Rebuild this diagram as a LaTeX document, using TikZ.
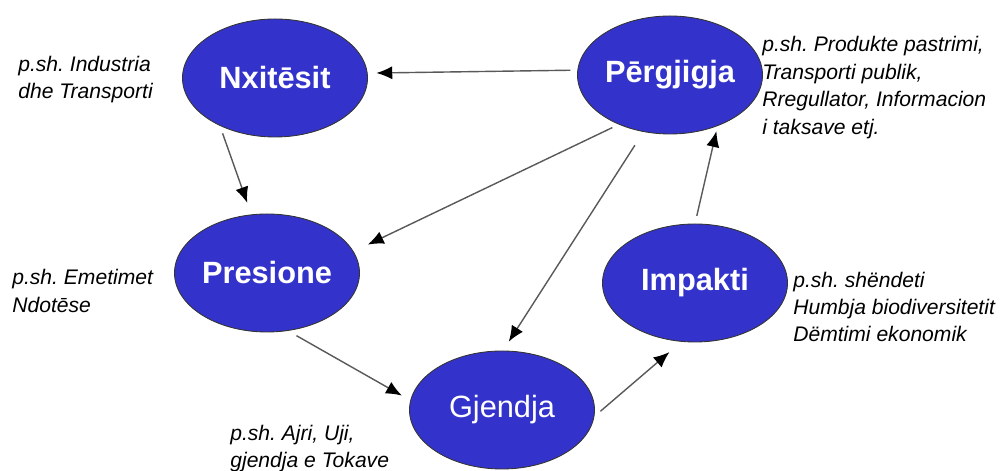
\documentclass[tikz,border=0pt]{standalone}
\usepackage{fontspec}
\setmainfont{Liberation Sans}
\usetikzlibrary{arrows.meta,shapes.geometric}
\definecolor{stageblue}{RGB}{51,51,204}
\frenchspacing

\begin{document}
\begin{tikzpicture}[>={Latex[length=9pt,width=7.5pt,color=black]},
    stage/.style={ellipse, draw=black!80, line width=0.5pt, fill=stageblue, text=white, minimum width=3.7cm, minimum height=2.36cm, inner sep=0pt, font=\bfseries\fontsize{17.5}{20}\selectfont},
    note/.style={anchor=west, align=left, inner sep=0pt, font=\itshape\fontsize{12}{15.6}\selectfont},
    link/.style={->, draw=black!65, line width=0.8pt}]
    \useasboundingbox (0,0) rectangle (20.06,9.42);
    % the five stages
    \node[stage] (nxit) at (5.50,7.86) {Nxitēsit};
    \node[stage] (perg) at (13.40,7.92) {Pērgjigja};
    \node[stage] (pres) at (5.34,3.96) {Presione};
    \node[stage] (imp) at (13.90,3.76) {Impakti};
    \node[stage] (gjen) at (10.04,1.22) {\mdseries Gjendja};
    % examples
    \node[note] (nxit_ex) at (0.36,7.83) {p.sh. Industria\\dhe Transporti};
    \node[note] (perg_ex) at (15.24,7.67) {p.sh. Produkte pastrimi,\\Transporti publik,\\Rregullator, Informacion\\i taksave etj.};
    \node[note] (pres_ex) at (0.24,3.60) {p.sh. Emetimet\\Ndotēse};
    \node[note] (imp_ex) at (15.86,3.28) {p.sh. shëndeti\\Humbja biodiversitetit\\Dëmtimi ekonomik};
    \node[note] (gjen_ex) at (4.60,0.45) {p.sh. Ajri, Uji,\\gjendja e Tokave};
    % links
    \draw[link, shorten <=4pt, shorten >=5pt] (perg.177) -- (nxit.3);
    \draw[link, shorten <=4.5pt, shorten >=7pt] (nxit.221) -- (pres.105);
    \draw[link, shorten <=4pt, shorten >=9pt] (perg.224) -- (pres.14);
    \draw[link, shorten <=9pt, shorten >=6pt] (perg.245) -- (gjen.89);
    \draw[link, shorten <=5.5pt, shorten >=5.5pt] (pres.290) -- (gjen.174);
    \draw[link, shorten <=4.5pt, shorten >=9pt] (gjen.356) -- (imp.257);
    \draw[link, shorten <=4.5pt, shorten >=3pt] (imp.90) -- (perg.313);
\end{tikzpicture}
\end{document}
